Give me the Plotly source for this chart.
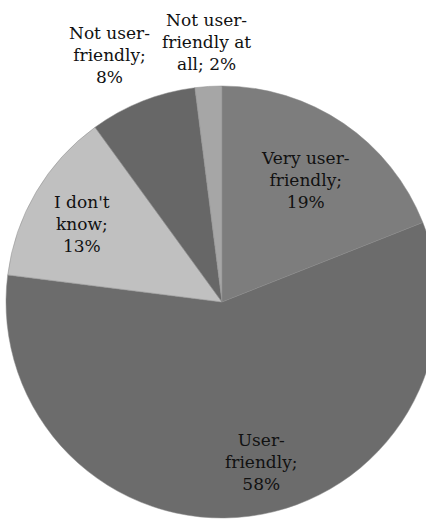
import plotly.graph_objects as go

# Survey answers, in drawing order (clockwise from 12 o'clock)
categories = ["Very user-friendly", "User-friendly", "I don't know",
              "Not user-friendly", "Not user-friendly at all"]
shares = [19, 58, 13, 8, 2]

# Label text split into lines as shown on the chart
label_lines = [
    ["Very user-", "friendly;"],
    ["User-", "friendly;"],
    ["I don't", "know;"],
    ["Not user-", "friendly;"],
    ["Not user-", "friendly at"],
]

slice_colors = ["#7d7d7d", "#6c6c6c", "#c0c0c0", "#676767", "#a6a6a6"]

W, H = 440, 521
# pie geometry in pixels
cx, cy, r = 222, 302, 216

# label anchor points in pixels (centre of each text block)
label_px = [(305, 180), (261, 462), (82, 224), (109, 55), (206, 42)]

fig = go.Figure(go.Pie(
    labels=categories,
    values=shares,
    sort=False,
    direction="clockwise",
    rotation=0,
    marker=dict(colors=slice_colors, line=dict(color="#8a8a8a", width=0.5)),
    textinfo="none",
    hoverinfo="label+percent",
    domain=dict(x=[(cx - r) / W, (cx + r) / W],
                y=[(H - cy - r) / H, (H - cy + r) / H]),
    showlegend=False,
))

for lines, val, (px, py) in zip(label_lines, shares, label_px):
    last = lines[-1]
    if last.endswith("at"):
        # "at all; 2%" wraps differently
        body = lines + ["all; %d%%" % val]
    else:
        body = lines + ["%d%%" % val]
    fig.add_annotation(
        x=px / W, y=1 - py / H, xref="paper", yref="paper",
        text="<br>".join(body), showarrow=False,
        xanchor="center", yanchor="middle", align="center",
        font=dict(family="'DejaVu Serif', 'Liberation Serif', serif", size=17, color="#111111"),
    )

fig.update_layout(
    width=W, height=H,
    margin=dict(l=0, r=0, t=0, b=0),
    paper_bgcolor="white", plot_bgcolor="white",
)

fig.write_html("out.html",
               post_script="document.body.style.margin='0';"
                           "document.body.style.overflow='hidden';"
                           "document.documentElement.style.overflow='hidden';")
